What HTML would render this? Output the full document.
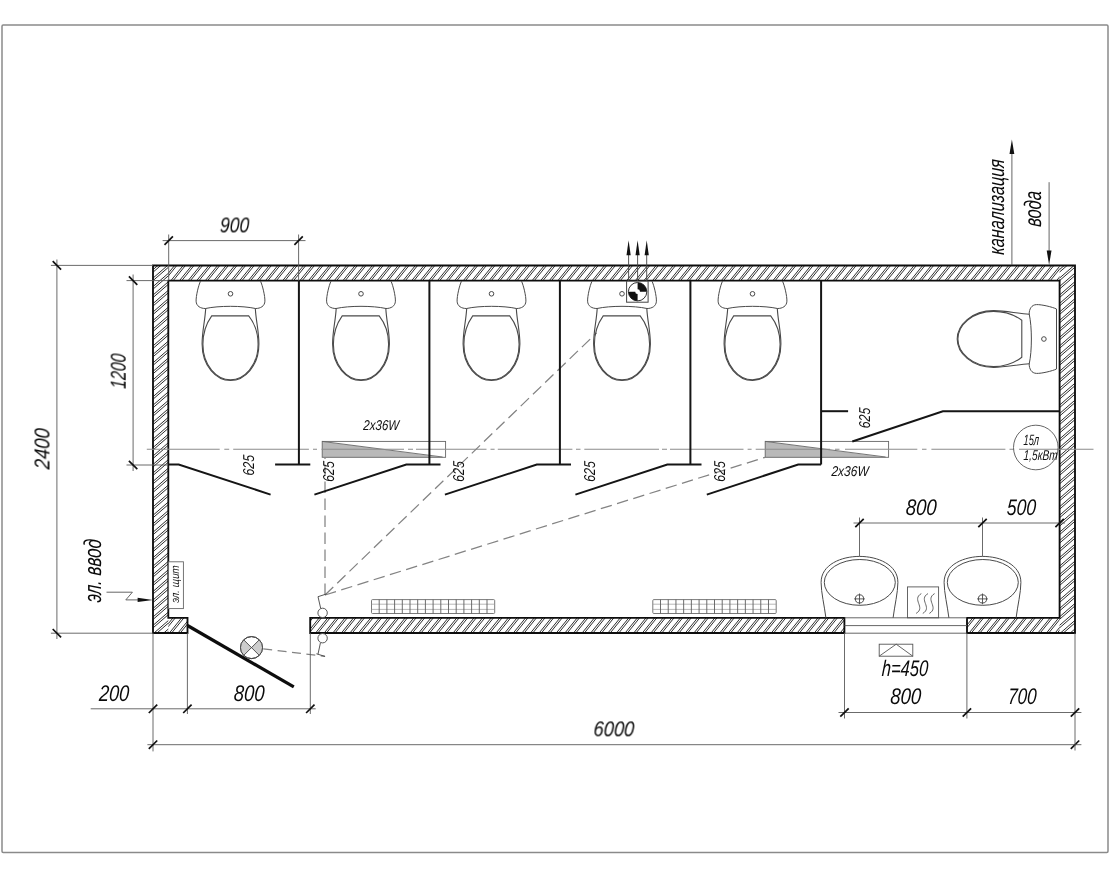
<!DOCTYPE html>
<html lang="ru">
<head>
<meta charset="utf-8">
<title>План модульного санитарного блока 6000x2400</title>
<style>
html,body{margin:0;padding:0;background:#fff;}
body{width:1110px;height:879px;overflow:hidden;}
svg{display:block;}
.t{font-family:"Liberation Sans",sans-serif;font-style:italic;fill:#0a0a0a;}
.ts{font-family:"Liberation Sans",sans-serif;font-style:italic;fill:#111;}
</style>
</head>
<body>
<svg width="1110" height="879" viewBox="0 0 1110 879">
<defs>
<clipPath id="clipH"><path d="M168.3,265.5 H1059.6 V280.6 H168.3 Z M310.2,617.8 H844.4 V633 H310.2 Z M168.3,617.8 H187.5 V633 H168.3 Z M967,617.8 H1059.6 V633 H967 Z"/></clipPath>
<clipPath id="clipV"><path d="M153,265.5 H168.3 V633 H153 Z M1059.6,265.5 H1075 V633 H1059.6 Z"/></clipPath>
<g id="wc" fill="none" stroke="#4a4a4a" stroke-width="1">
<path d="M-30,0 C-32,4 -34.6,15 -34.4,20 C-34.2,25 -30,27.3 -25,27.3 C-12,24.4 12,24.4 25,27.3 C30,27.3 34.2,25 34.4,20 C34.6,15 32,4 30,0"/>
<circle cx="0" cy="12.6" r="2.3"/>
<path d="M-24.8,27.2 C-25.5,40 -28.4,50 -28.4,62.7 C-28.4,85 -14,99.3 0,99.3 C14,99.3 28.4,85 28.4,62.7 C28.4,50 25.5,40 24.8,27.2" stroke-width="1.1"/>
<path d="M-18.8,34.7 L18.2,34.7 C24,42 27.6,52 27.6,63 C27.6,84.4 13.7,98.6 0,98.6 C-13.7,98.6 -27.6,84.4 -27.6,63 C-27.6,52 -24,42 -18.8,34.7 Z" stroke-width="1.1"/>
</g>
<g id="sink" fill="none" stroke="#4a4a4a" stroke-width="1">
<path d="M-33.6,61.4 C-35,50 -38.4,36 -38.4,26 C-38.4,8 -18,0 0,0 C18,0 38.4,8 38.4,26 C38.4,36 35,50 33.6,61.4"/>
<ellipse cx="0.3" cy="26" rx="35.5" ry="22.9"/>
<circle cx="0" cy="42.5" r="4.1"/>
<path d="M-5.4,42.5 H5.4 M0,37.1 V47.9" stroke-width="0.9"/>
</g>
</defs>
<rect x="0" y="0" width="1110" height="879" fill="#fff"/>
<rect x="2" y="25" width="1106" height="827.5" fill="none" stroke="#8a8a8a" stroke-width="1.5" rx="1.2"/>

<path clip-path="url(#clipH)" d="M155.7,281 L168.6,265 M162.0,281 L175.0,265 M164.3,281 L177.2,265 M170.6,281 L183.6,265 M172.9,281 L185.8,265 M179.2,281 L192.2,265 M181.5,281 L194.4,265 M187.8,281 L200.8,265 M190.1,281 L203.0,265 M196.4,281 L209.4,265 M198.7,281 L211.6,265 M205.0,281 L218.0,265 M207.3,281 L220.2,265 M213.6,281 L226.6,265 M215.9,281 L228.8,265 M222.2,281 L235.2,265 M224.5,281 L237.4,265 M230.8,281 L243.8,265 M233.1,281 L246.0,265 M239.4,281 L252.4,265 M241.7,281 L254.6,265 M248.0,281 L261.0,265 M250.3,281 L263.2,265 M256.6,281 L269.6,265 M258.9,281 L271.8,265 M265.2,281 L278.2,265 M267.5,281 L280.4,265 M273.8,281 L286.8,265 M276.1,281 L289.0,265 M282.4,281 L295.4,265 M284.7,281 L297.6,265 M291.0,281 L304.0,265 M293.3,281 L306.2,265 M299.6,281 L312.6,265 M301.9,281 L314.8,265 M308.2,281 L321.2,265 M310.5,281 L323.4,265 M316.8,281 L329.8,265 M319.1,281 L332.0,265 M325.4,281 L338.4,265 M327.7,281 L340.6,265 M334.0,281 L347.0,265 M336.3,281 L349.2,265 M342.6,281 L355.6,265 M344.9,281 L357.8,265 M351.2,281 L364.2,265 M353.5,281 L366.4,265 M359.8,281 L372.8,265 M362.1,281 L375.0,265 M368.4,281 L381.4,265 M370.7,281 L383.6,265 M377.0,281 L390.0,265 M379.3,281 L392.2,265 M385.6,281 L398.6,265 M387.9,281 L400.8,265 M394.2,281 L407.2,265 M396.5,281 L409.4,265 M402.8,281 L415.8,265 M405.1,281 L418.0,265 M411.4,281 L424.4,265 M413.7,281 L426.6,265 M420.0,281 L433.0,265 M422.3,281 L435.2,265 M428.6,281 L441.6,265 M430.9,281 L443.8,265 M437.2,281 L450.2,265 M439.4,281 L452.4,265 M445.8,281 L458.8,265 M448.0,281 L461.0,265 M454.4,281 L467.4,265 M456.6,281 L469.6,265 M463.0,281 L476.0,265 M465.2,281 L478.2,265 M471.6,281 L484.6,265 M473.8,281 L486.8,265 M480.2,281 L493.1,265 M482.4,281 L495.4,265 M488.8,281 L501.7,265 M491.0,281 L504.0,265 M497.4,281 L510.3,265 M499.6,281 L512.6,265 M506.0,281 L518.9,265 M508.2,281 L521.2,265 M514.6,281 L527.5,265 M516.8,281 L529.8,265 M523.2,281 L536.1,265 M525.4,281 L538.4,265 M531.8,281 L544.7,265 M534.0,281 L547.0,265 M540.4,281 L553.3,265 M542.6,281 L555.6,265 M549.0,281 L561.9,265 M551.2,281 L564.2,265 M557.6,281 L570.5,265 M559.8,281 L572.8,265 M566.2,281 L579.1,265 M568.4,281 L581.4,265 M574.8,281 L587.7,265 M577.0,281 L590.0,265 M583.4,281 L596.3,265 M585.6,281 L598.6,265 M592.0,281 L604.9,265 M594.2,281 L607.2,265 M600.6,281 L613.5,265 M602.8,281 L615.8,265 M609.2,281 L622.1,265 M611.4,281 L624.4,265 M617.8,281 L630.7,265 M620.0,281 L633.0,265 M626.4,281 L639.3,265 M628.6,281 L641.6,265 M635.0,281 L647.9,265 M637.2,281 L650.2,265 M643.6,281 L656.5,265 M645.8,281 L658.8,265 M652.2,281 L665.1,265 M654.4,281 L667.4,265 M660.8,281 L673.7,265 M663.0,281 L676.0,265 M669.4,281 L682.3,265 M671.6,281 L684.6,265 M678.0,281 L690.9,265 M680.2,281 L693.2,265 M686.6,281 L699.5,265 M688.8,281 L701.8,265 M695.2,281 L708.1,265 M697.4,281 L710.4,265 M703.8,281 L716.7,265 M706.0,281 L719.0,265 M712.4,281 L725.3,265 M714.6,281 L727.6,265 M721.0,281 L733.9,265 M723.2,281 L736.2,265 M729.6,281 L742.5,265 M731.8,281 L744.8,265 M738.2,281 L751.1,265 M740.4,281 L753.4,265 M746.8,281 L759.7,265 M749.0,281 L762.0,265 M755.4,281 L768.3,265 M757.6,281 L770.6,265 M764.0,281 L776.9,265 M766.2,281 L779.2,265 M772.6,281 L785.5,265 M774.8,281 L787.8,265 M781.2,281 L794.1,265 M783.4,281 L796.4,265 M789.8,281 L802.7,265 M792.0,281 L805.0,265 M798.4,281 L811.3,265 M800.6,281 L813.6,265 M807.0,281 L819.9,265 M809.2,281 L822.2,265 M815.6,281 L828.5,265 M817.8,281 L830.8,265 M824.2,281 L837.1,265 M826.4,281 L839.4,265 M832.8,281 L845.7,265 M835.0,281 L848.0,265 M841.4,281 L854.3,265 M843.6,281 L856.6,265 M850.0,281 L862.9,265 M852.2,281 L865.2,265 M858.6,281 L871.5,265 M860.8,281 L873.8,265 M867.2,281 L880.1,265 M869.4,281 L882.4,265 M875.8,281 L888.7,265 M878.0,281 L891.0,265 M884.4,281 L897.3,265 M886.6,281 L899.6,265 M893.0,281 L905.9,265 M895.2,281 L908.2,265 M901.6,281 L914.5,265 M903.8,281 L916.8,265 M910.2,281 L923.1,265 M912.4,281 L925.4,265 M918.8,281 L931.7,265 M921.0,281 L934.0,265 M927.4,281 L940.3,265 M929.6,281 L942.6,265 M936.0,281 L948.9,265 M938.2,281 L951.2,265 M944.6,281 L957.5,265 M946.8,281 L959.8,265 M953.1,281 L966.1,265 M955.4,281 L968.4,265 M961.7,281 L974.7,265 M964.0,281 L977.0,265 M970.3,281 L983.3,265 M972.6,281 L985.6,265 M978.9,281 L991.9,265 M981.2,281 L994.2,265 M987.5,281 L1000.5,265 M989.8,281 L1002.8,265 M996.1,281 L1009.1,265 M998.4,281 L1011.4,265 M1004.7,281 L1017.7,265 M1007.0,281 L1020.0,265 M1013.3,281 L1026.3,265 M1015.6,281 L1028.6,265 M1021.9,281 L1034.9,265 M1024.2,281 L1037.1,265 M1030.5,281 L1043.5,265 M1032.8,281 L1045.7,265 M1039.1,281 L1052.1,265 M1041.4,281 L1054.3,265 M1047.7,281 L1060.7,265 M1050.0,281 L1062.9,265 M1056.3,281 L1069.3,265 M1058.6,281 L1071.5,265" stroke="#242424" stroke-width="0.95" fill="none"/>
<path clip-path="url(#clipH)" d="M153.6,634 L167.4,617 M160.0,634 L173.7,617 M162.2,634 L176.0,617 M168.6,634 L182.3,617 M170.8,634 L184.6,617 M177.2,634 L190.9,617 M179.4,634 L193.2,617 M185.8,634 L199.5,617 M188.0,634 L201.8,617 M194.4,634 L208.1,617 M196.6,634 L210.4,617 M203.0,634 L216.7,617 M205.2,634 L219.0,617 M211.6,634 L225.3,617 M213.8,634 L227.6,617 M220.2,634 L233.9,617 M222.4,634 L236.2,617 M228.8,634 L242.5,617 M231.0,634 L244.8,617 M237.4,634 L251.1,617 M239.6,634 L253.4,617 M246.0,634 L259.7,617 M248.2,634 L262.0,617 M254.6,634 L268.3,617 M256.8,634 L270.6,617 M263.2,634 L276.9,617 M265.4,634 L279.2,617 M271.8,634 L285.5,617 M274.0,634 L287.8,617 M280.4,634 L294.1,617 M282.6,634 L296.4,617 M289.0,634 L302.7,617 M291.2,634 L305.0,617 M297.6,634 L311.3,617 M299.8,634 L313.6,617 M306.2,634 L319.9,617 M308.4,634 L322.2,617 M314.8,634 L328.5,617 M317.0,634 L330.8,617 M323.4,634 L337.1,617 M325.6,634 L339.4,617 M332.0,634 L345.7,617 M334.2,634 L348.0,617 M340.6,634 L354.3,617 M342.8,634 L356.6,617 M349.1,634 L362.9,617 M351.4,634 L365.2,617 M357.7,634 L371.5,617 M360.0,634 L373.8,617 M366.3,634 L380.1,617 M368.6,634 L382.4,617 M374.9,634 L388.7,617 M377.2,634 L391.0,617 M383.5,634 L397.3,617 M385.8,634 L399.6,617 M392.1,634 L405.9,617 M394.4,634 L408.2,617 M400.7,634 L414.5,617 M403.0,634 L416.8,617 M409.3,634 L423.1,617 M411.6,634 L425.4,617 M417.9,634 L431.7,617 M420.2,634 L434.0,617 M426.5,634 L440.3,617 M428.8,634 L442.6,617 M435.1,634 L448.9,617 M437.4,634 L451.2,617 M443.7,634 L457.5,617 M446.0,634 L459.8,617 M452.3,634 L466.1,617 M454.6,634 L468.4,617 M460.9,634 L474.7,617 M463.2,634 L477.0,617 M469.5,634 L483.3,617 M471.8,634 L485.6,617 M478.1,634 L491.9,617 M480.4,634 L494.2,617 M486.7,634 L500.5,617 M489.0,634 L502.8,617 M495.3,634 L509.1,617 M497.6,634 L511.4,617 M503.9,634 L517.7,617 M506.2,634 L520.0,617 M512.5,634 L526.3,617 M514.8,634 L528.6,617 M521.1,634 L534.9,617 M523.4,634 L537.1,617 M529.7,634 L543.5,617 M532.0,634 L545.7,617 M538.3,634 L552.1,617 M540.6,634 L554.3,617 M546.9,634 L560.7,617 M549.2,634 L562.9,617 M555.5,634 L569.3,617 M557.8,634 L571.5,617 M564.1,634 L577.9,617 M566.4,634 L580.1,617 M572.7,634 L586.5,617 M575.0,634 L588.7,617 M581.3,634 L595.1,617 M583.6,634 L597.3,617 M589.9,634 L603.7,617 M592.2,634 L605.9,617 M598.5,634 L612.3,617 M600.8,634 L614.5,617 M607.1,634 L620.9,617 M609.4,634 L623.1,617 M615.7,634 L629.5,617 M618.0,634 L631.7,617 M624.3,634 L638.1,617 M626.6,634 L640.3,617 M632.9,634 L646.7,617 M635.2,634 L648.9,617 M641.5,634 L655.3,617 M643.8,634 L657.5,617 M650.1,634 L663.9,617 M652.4,634 L666.1,617 M658.7,634 L672.5,617 M661.0,634 L674.7,617 M667.3,634 L681.1,617 M669.6,634 L683.3,617 M675.9,634 L689.7,617 M678.2,634 L691.9,617 M684.5,634 L698.3,617 M686.8,634 L700.5,617 M693.1,634 L706.9,617 M695.4,634 L709.1,617 M701.7,634 L715.5,617 M704.0,634 L717.7,617 M710.3,634 L724.1,617 M712.6,634 L726.3,617 M718.9,634 L732.7,617 M721.2,634 L734.9,617 M727.5,634 L741.3,617 M729.8,634 L743.5,617 M736.1,634 L749.9,617 M738.4,634 L752.1,617 M744.7,634 L758.5,617 M747.0,634 L760.7,617 M753.3,634 L767.1,617 M755.6,634 L769.3,617 M761.9,634 L775.7,617 M764.2,634 L777.9,617 M770.5,634 L784.3,617 M772.8,634 L786.5,617 M779.1,634 L792.9,617 M781.4,634 L795.1,617 M787.7,634 L801.5,617 M790.0,634 L803.7,617 M796.3,634 L810.1,617 M798.6,634 L812.3,617 M804.9,634 L818.7,617 M807.2,634 L820.9,617 M813.5,634 L827.3,617 M815.8,634 L829.5,617 M822.1,634 L835.9,617 M824.4,634 L838.1,617 M830.7,634 L844.5,617 M833.0,634 L846.7,617 M839.3,634 L853.1,617 M841.6,634 L855.3,617 M847.9,634 L861.7,617 M850.2,634 L863.9,617 M856.5,634 L870.3,617 M858.8,634 L872.5,617 M865.1,634 L878.9,617 M867.4,634 L881.1,617 M873.7,634 L887.5,617 M876.0,634 L889.7,617 M882.3,634 L896.1,617 M884.6,634 L898.3,617 M890.9,634 L904.7,617 M893.1,634 L906.9,617 M899.5,634 L913.3,617 M901.7,634 L915.5,617 M908.1,634 L921.9,617 M910.3,634 L924.1,617 M916.7,634 L930.5,617 M918.9,634 L932.7,617 M925.3,634 L939.1,617 M927.5,634 L941.3,617 M933.9,634 L947.7,617 M936.1,634 L949.9,617 M942.5,634 L956.3,617 M944.7,634 L958.5,617 M951.1,634 L964.9,617 M953.3,634 L967.1,617 M959.7,634 L973.5,617 M961.9,634 L975.7,617 M968.3,634 L982.1,617 M970.5,634 L984.3,617 M976.9,634 L990.7,617 M979.1,634 L992.9,617 M985.5,634 L999.3,617 M987.7,634 L1001.5,617 M994.1,634 L1007.9,617 M996.3,634 L1010.1,617 M1002.7,634 L1016.5,617 M1004.9,634 L1018.7,617 M1011.3,634 L1025.1,617 M1013.5,634 L1027.3,617 M1019.9,634 L1033.7,617 M1022.1,634 L1035.9,617 M1028.5,634 L1042.3,617 M1030.7,634 L1044.5,617 M1037.1,634 L1050.9,617 M1039.3,634 L1053.1,617 M1045.7,634 L1059.4,617 M1047.9,634 L1061.7,617 M1054.3,634 L1068.0,617 M1056.5,634 L1070.3,617" stroke="#242424" stroke-width="0.95" fill="none"/>
<path clip-path="url(#clipV)" d="M-273.1,634 L151.5,265 M-266.2,634 L158.4,265 M-263.4,634 L161.3,265 M-256.5,634 L168.1,265 M-253.6,634 L171.0,265 M-246.7,634 L177.9,265 M-243.9,634 L180.8,265 M-237.0,634 L187.6,265 M-234.1,634 L190.5,265 M-227.2,634 L197.4,265 M-224.4,634 L200.3,265 M-217.5,634 L207.1,265 M-214.6,634 L210.0,265 M-207.8,634 L216.9,265 M-204.9,634 L219.7,265 M-198.0,634 L226.6,265 M-195.1,634 L229.5,265 M-188.3,634 L236.4,265 M-185.4,634 L239.2,265 M-178.5,634 L246.1,265 M-175.6,634 L249.0,265 M-168.8,634 L255.9,265 M-165.9,634 L258.7,265 M-159.0,634 L265.6,265 M-156.1,634 L268.5,265 M-149.3,634 L275.4,265 M-146.4,634 L278.2,265 M-139.5,634 L285.1,265 M-136.7,634 L288.0,265 M-129.8,634 L294.8,265 M-126.9,634 L297.7,265 M-120.0,634 L304.6,265 M-117.2,634 L307.5,265 M-110.3,634 L314.3,265 M-107.4,634 L317.2,265 M-100.5,634 L324.1,265 M-97.7,634 L327.0,265 M-90.8,634 L333.8,265 M-87.9,634 L336.7,265 M-81.0,634 L343.6,265 M-78.2,634 L346.5,265 M-71.3,634 L353.3,265 M-68.4,634 L356.2,265 M-61.6,634 L363.1,265 M-58.7,634 L365.9,265 M-51.8,634 L372.8,265 M-48.9,634 L375.7,265 M-42.1,634 L382.6,265 M-39.2,634 L385.4,265 M-32.3,634 L392.3,265 M-29.4,634 L395.2,265 M-22.6,634 L402.1,265 M-19.7,634 L404.9,265 M-12.8,634 L411.8,265 M-9.9,634 L414.7,265 M-3.1,634 L421.6,265 M-0.2,634 L424.4,265 M6.7,634 L431.3,265 M9.6,634 L434.2,265 M16.4,634 L441.0,265 M19.3,634 L443.9,265 M26.2,634 L450.8,265 M29.0,634 L453.7,265 M35.9,634 L460.5,265 M38.8,634 L463.4,265 M45.7,634 L470.3,265 M48.5,634 L473.2,265 M55.4,634 L480.0,265 M58.3,634 L482.9,265 M65.2,634 L489.8,265 M68.0,634 L492.7,265 M74.9,634 L499.5,265 M77.8,634 L502.4,265 M84.6,634 L509.3,265 M87.5,634 L512.2,265 M94.4,634 L519.0,265 M97.3,634 L521.9,265 M104.1,634 L528.8,265 M107.0,634 L531.6,265 M113.9,634 L538.5,265 M116.8,634 L541.4,265 M123.6,634 L548.3,265 M126.5,634 L551.1,265 M133.4,634 L558.0,265 M136.3,634 L560.9,265 M143.1,634 L567.8,265 M146.0,634 L570.6,265 M152.9,634 L577.5,265 M155.8,634 L580.4,265 M162.6,634 L587.2,265 M165.5,634 L590.1,265" stroke="#242424" stroke-width="0.95" fill="none"/>
<path clip-path="url(#clipV)" d="M640.2,634 L1064.8,265 M643.1,634 L1067.7,265 M650.0,634 L1074.6,265 M652.8,634 L1077.5,265 M659.7,634 L1084.3,265 M662.6,634 L1087.2,265 M669.5,634 L1094.1,265 M672.3,634 L1097.0,265 M679.2,634 L1103.8,265 M682.1,634 L1106.7,265 M689.0,634 L1113.6,265 M691.8,634 L1116.5,265 M698.7,634 L1123.3,265 M701.6,634 L1126.2,265 M708.4,634 L1133.1,265 M711.3,634 L1135.9,265 M718.2,634 L1142.8,265 M721.1,634 L1145.7,265 M727.9,634 L1152.6,265 M730.8,634 L1155.4,265 M737.7,634 L1162.3,265 M740.6,634 L1165.2,265 M747.4,634 L1172.1,265 M750.3,634 L1174.9,265 M757.2,634 L1181.8,265 M760.1,634 L1184.7,265 M766.9,634 L1191.6,265 M769.8,634 L1194.4,265 M776.7,634 L1201.3,265 M779.6,634 L1204.2,265 M786.4,634 L1211.0,265 M789.3,634 L1213.9,265 M796.2,634 L1220.8,265 M799.0,634 L1223.7,265 M805.9,634 L1230.5,265 M808.8,634 L1233.4,265 M815.7,634 L1240.3,265 M818.5,634 L1243.2,265 M825.4,634 L1250.0,265 M828.3,634 L1252.9,265 M835.2,634 L1259.8,265 M838.0,634 L1262.7,265 M844.9,634 L1269.5,265 M847.8,634 L1272.4,265 M854.6,634 L1279.3,265 M857.5,634 L1282.2,265 M864.4,634 L1289.0,265 M867.3,634 L1291.9,265 M874.1,634 L1298.8,265 M877.0,634 L1301.6,265 M883.9,634 L1308.5,265 M886.8,634 L1311.4,265 M893.6,634 L1318.3,265 M896.5,634 L1321.1,265 M903.4,634 L1328.0,265 M906.3,634 L1330.9,265 M913.1,634 L1337.8,265 M916.0,634 L1340.6,265 M922.9,634 L1347.5,265 M925.8,634 L1350.4,265 M932.6,634 L1357.2,265 M935.5,634 L1360.1,265 M942.4,634 L1367.0,265 M945.2,634 L1369.9,265 M952.1,634 L1376.7,265 M955.0,634 L1379.6,265 M961.9,634 L1386.5,265 M964.7,634 L1389.4,265 M971.6,634 L1396.2,265 M974.5,634 L1399.1,265 M981.4,634 L1406.0,265 M984.2,634 L1408.9,265 M991.1,634 L1415.7,265 M994.0,634 L1418.6,265 M1000.9,634 L1425.5,265 M1003.7,634 L1428.4,265 M1010.6,634 L1435.2,265 M1013.5,634 L1438.1,265 M1020.3,634 L1445.0,265 M1023.2,634 L1447.8,265 M1030.1,634 L1454.7,265 M1033.0,634 L1457.6,265 M1039.8,634 L1464.5,265 M1042.7,634 L1467.3,265 M1049.6,634 L1474.2,265 M1052.5,634 L1477.1,265 M1059.3,634 L1484.0,265 M1062.2,634 L1486.8,265 M1069.1,634 L1493.7,265 M1072.0,634 L1496.6,265" stroke="#242424" stroke-width="0.95" fill="none"/>
<g fill="none" stroke="#0d0d0d" stroke-width="1.85" stroke-linejoin="miter">
<path d="M153,265.5 H1075 V633 H967 V617.8 H1059.6 V280.6 H168.3 V617.8 H187.5 V633 H153 Z"/>
<path d="M310.2,617.8 H844.4 V633 H310.2 Z"/>
</g>
<line x1="844.4" y1="617.8" x2="967" y2="617.8" stroke="#555" stroke-width="0.9" />
<line x1="844.4" y1="625.6" x2="967" y2="625.6" stroke="#555" stroke-width="0.9" />
<line x1="844.4" y1="633.2" x2="967" y2="633.2" stroke="#555" stroke-width="0.9" />
<path d="M322.2,441.4 L322.2,457.3 L441.6,457.3 Z" fill="#b9b9b9" stroke="none"/>
<rect x="322.2" y="441.4" width="123.40000000000003" height="15.9" fill="none" stroke="#666" stroke-width="0.9"/>
<path d="M322.2,441.4 L442.6,457" fill="none" stroke="#666" stroke-width="0.9"/>
<path d="M765.2,441.4 L765.2,457.3 L884.6,457.3 Z" fill="#b9b9b9" stroke="none"/>
<rect x="765.2" y="441.4" width="123.39999999999998" height="15.9" fill="none" stroke="#666" stroke-width="0.9"/>
<path d="M765.2,441.4 L885.6,457" fill="none" stroke="#666" stroke-width="0.9"/>
<path d="M146.8,449.3 H219.7 M224.3,449.3 H229.2 M233.2,449.3 H308.9 M313,449.3 H317 M321.5,449.3 H404 M408,449.3 H413 M416,449.3 H486.5 M490.5,449.3 H494.6 M497.8,449.3 H572.4 M576,449.3 H580.5 M584.3,449.3 H659 M662,449.3 H667 M670,449.3 H743.5 M747.6,449.3 H751.6 M755.7,449.3 H830 M835,449.3 H839.5 M845,449.3 H917.3 M922,449.3 H926.5 M931.4,449.3 H1005.4 M1009.5,449.3 H1014 M1019,449.3 H1093.5" stroke="#8c8c8c" stroke-width="1.1" fill="none"/>
<g stroke="#838383" stroke-width="1.25" fill="none" stroke-dasharray="11.5 5.5">
<path d="M325,595 V458"/>
<path d="M325,595 L596.6,332.9"/>
<path d="M325,595 L765.2,457.3"/>
<path d="M263.2,648.8 L325,656.4" stroke-dasharray="9 5.5"/>
</g>
<use href="#wc" x="230.5" y="281.2"/>
<use href="#wc" x="361" y="281.2"/>
<use href="#wc" x="491.5" y="281.2"/>
<use href="#wc" x="622" y="281.2"/>
<use href="#wc" x="752.5" y="281.2"/>
<use href="#wc" transform="translate(1056.5 339) rotate(90)"/>
<line x1="1056.5" y1="309" x2="1056.5" y2="369" stroke="#4a4a4a" stroke-width="1" />
<g>
<rect x="626.6" y="281.2" width="21.5" height="21" fill="#fff" stroke="#444" stroke-width="1"/>
<circle cx="637.6" cy="291.7" r="9.2" fill="#fff" stroke="#333" stroke-width="1"/>
<path d="M637.6,291.7 L637.6,282.5 A9.2,9.2 0 0 1 646.8,291.7 Z M637.6,291.7 L637.6,300.9 A9.2,9.2 0 0 1 628.4,291.7 Z" fill="#111"/>
<circle cx="637.6" cy="291.7" r="2.4" fill="#fff"/>
<line x1="628.6" y1="281" x2="628.6" y2="254" stroke="#444" stroke-width="0.9" />
<path d="M628.6,240.2 L630.7,255.2 L626.5,255.2 Z" fill="#111"/>
<line x1="637.6" y1="281" x2="637.6" y2="254" stroke="#444" stroke-width="0.9" />
<path d="M637.6,240.2 L639.7,255.2 L635.5,255.2 Z" fill="#111"/>
<line x1="646.7" y1="281" x2="646.7" y2="254" stroke="#444" stroke-width="0.9" />
<path d="M646.7,240.2 L648.8000000000001,255.2 L644.6,255.2 Z" fill="#111"/>
</g>
<g stroke="#151515" stroke-width="2" fill="none" stroke-linecap="butt">
<path d="M298.9,280.6 V464.5"/>
<path d="M429.4,280.6 V464.5"/>
<path d="M559.9,280.6 V464.5"/>
<path d="M690.4,280.6 V464.5"/>
<path d="M821.1,280.6 V464.5"/>
<path d="M168.3,464.5 H178.7 L270.6,494.6"/>
<path d="M275.1,464.5 H310.3"/>
<path d="M314.4,494.6 L406.3,464.5 H440.5"/>
<path d="M444.9,494.6 L536.8,464.5 H571.0"/>
<path d="M575.4,494.6 L667.3,464.5 H701.5"/>
<path d="M706.8,494.6 L798.2,464.5 H821.1"/>
<path d="M821.1,411.2 H848.1"/>
<path d="M852.3,441.5 L942.9,411.2 H1059.6"/>
</g>
<path d="M187.5,625.5 L293.8,686.9" stroke="#0d0d0d" stroke-width="3.2" fill="none"/>
<g>
<circle cx="251.5" cy="647.6" r="11" fill="#fff" stroke="#444" stroke-width="1"/>
<path d="M251.5,647.6 L243.72,639.82 A11,11 0 0 0 243.72,655.38 Z M251.5,647.6 L259.28,639.82 A11,11 0 0 1 259.28,655.38 Z" fill="#cdcdcd"/>
<path d="M243.72,639.82 L259.28,655.38 M259.28,639.82 L243.72,655.38" stroke="#444" stroke-width="0.9"/>
<circle cx="251.5" cy="647.6" r="11" fill="none" stroke="#444" stroke-width="1"/>
</g>
<g fill="#fff" stroke="#444" stroke-width="0.9">
<circle cx="322.6" cy="612.9" r="4.7"/>
<circle cx="322.6" cy="638.2" r="4.7"/>
<path d="M320.7,608.4 L318,596.7 L326.4,594" fill="none"/>
<path d="M320.4,643 L318,654.1 M316.4,653.8 L325.1,656.4" fill="none"/>
</g>
<rect x="168.6" y="561.8" width="14.8" height="46.8" fill="#fff" stroke="#666" stroke-width="0.9"/>
<g stroke="#5c5c5c" stroke-width="0.9" fill="none">
<rect x="371.5" y="599.6" width="123.2" height="13.9" rx="1" stroke="#6a6a6a"/>
<path d="M371.5,604.2 H494.7 M371.5,609.4 H494.7" stroke="#999" stroke-width="0.7"/>
<path d="M379.20,599.6 V613.5 M386.90,599.6 V613.5 M394.60,599.6 V613.5 M402.30,599.6 V613.5 M410.00,599.6 V613.5 M417.70,599.6 V613.5 M425.40,599.6 V613.5 M433.10,599.6 V613.5 M440.80,599.6 V613.5 M448.50,599.6 V613.5 M456.20,599.6 V613.5 M463.90,599.6 V613.5 M471.60,599.6 V613.5 M479.30,599.6 V613.5 M487.00,599.6 V613.5"/>
</g>
<g stroke="#5c5c5c" stroke-width="0.9" fill="none">
<rect x="652.8" y="599.6" width="123.4" height="13.9" rx="1" stroke="#6a6a6a"/>
<path d="M652.8,604.2 H776.2 M652.8,609.4 H776.2" stroke="#999" stroke-width="0.7"/>
<path d="M660.51,599.6 V613.5 M668.22,599.6 V613.5 M675.94,599.6 V613.5 M683.65,599.6 V613.5 M691.36,599.6 V613.5 M699.08,599.6 V613.5 M706.79,599.6 V613.5 M714.50,599.6 V613.5 M722.21,599.6 V613.5 M729.92,599.6 V613.5 M737.64,599.6 V613.5 M745.35,599.6 V613.5 M753.06,599.6 V613.5 M760.78,599.6 V613.5 M768.49,599.6 V613.5"/>
</g>
<use href="#sink" x="859.5" y="556.4"/>
<use href="#sink" x="982.5" y="556.4"/>
<rect x="907.5" y="586.9" width="31.1" height="30.9" fill="none" stroke="#555" stroke-width="0.9"/>
<path d="M921.3000000000001,593.6 C911.2,599.5 926.2,607.5 916.1,613.4" fill="none" stroke="#555" stroke-width="0.9"/>
<path d="M928.0,593.6 C917.9,599.5 932.9,607.5 922.8,613.4" fill="none" stroke="#555" stroke-width="0.9"/>
<path d="M934.6,593.6 C924.5,599.5 939.5,607.5 929.4,613.4" fill="none" stroke="#555" stroke-width="0.9"/>
<rect x="879.2" y="644.2" width="33.6" height="12" fill="none" stroke="#555" stroke-width="0.9"/>
<path d="M879.2,656.2 L896.2,644.2 L912.8,656.2" fill="none" stroke="#555" stroke-width="0.9"/>
<circle cx="1035.8" cy="447.5" r="22.3" fill="none" stroke="#555" stroke-width="0.9"/>
<line x1="1011.9" y1="265" x2="1011.9" y2="152" stroke="#555" stroke-width="0.9" />
<path d="M1011.9,139.6 L1014.3,154 L1009.5,154 Z" fill="#111"/>
<line x1="1049.1" y1="182.2" x2="1049.1" y2="252" stroke="#555" stroke-width="0.9" />
<path d="M1049.1,265 L1051.5,250.5 L1046.7,250.5 Z" fill="#111"/>
<path d="M106.5,592.2 H132.4 L125.8,599.9 H140" fill="none" stroke="#555" stroke-width="0.9"/>
<path d="M153,599.9 L137.6,602.1 L137.6,597.7 Z" fill="#111"/>
<line x1="162.6" y1="240.6" x2="305.5" y2="240.6" stroke="#5a5a5a" stroke-width="0.9" />
<line x1="168.7" y1="234.5" x2="168.7" y2="280.6" stroke="#5a5a5a" stroke-width="0.9" />
<line x1="298.6" y1="234.5" x2="298.6" y2="280.6" stroke="#5a5a5a" stroke-width="0.9" />
<line x1="164.5" y1="244.79999999999998" x2="172.89999999999998" y2="236.4" stroke="#111" stroke-width="1.7" />
<line x1="294.40000000000003" y1="244.79999999999998" x2="302.8" y2="236.4" stroke="#111" stroke-width="1.7" />
<line x1="56.9" y1="259.5" x2="56.9" y2="639" stroke="#5a5a5a" stroke-width="0.9" />
<line x1="50.9" y1="265.4" x2="153" y2="265.4" stroke="#5a5a5a" stroke-width="0.9" />
<line x1="50.9" y1="633.2" x2="153" y2="633.2" stroke="#5a5a5a" stroke-width="0.9" />
<line x1="52.699999999999996" y1="261.2" x2="61.1" y2="269.59999999999997" stroke="#111" stroke-width="1.7" />
<line x1="52.699999999999996" y1="629.0" x2="61.1" y2="637.4000000000001" stroke="#111" stroke-width="1.7" />
<line x1="133.1" y1="274.5" x2="133.1" y2="471" stroke="#5a5a5a" stroke-width="0.9" />
<line x1="126.5" y1="280.6" x2="168" y2="280.6" stroke="#5a5a5a" stroke-width="0.9" />
<line x1="126.5" y1="465" x2="168" y2="465" stroke="#5a5a5a" stroke-width="0.9" />
<line x1="128.9" y1="276.40000000000003" x2="137.29999999999998" y2="284.8" stroke="#111" stroke-width="1.7" />
<line x1="128.9" y1="460.8" x2="137.29999999999998" y2="469.2" stroke="#111" stroke-width="1.7" />
<line x1="90.7" y1="708.8" x2="315.7" y2="708.8" stroke="#5a5a5a" stroke-width="0.9" />
<line x1="153" y1="633" x2="153" y2="751.4" stroke="#5a5a5a" stroke-width="0.9" />
<line x1="187.4" y1="633" x2="187.4" y2="714" stroke="#5a5a5a" stroke-width="0.9" />
<line x1="310.3" y1="633" x2="310.3" y2="714" stroke="#5a5a5a" stroke-width="0.9" />
<line x1="148.8" y1="713.0" x2="157.2" y2="704.5999999999999" stroke="#111" stroke-width="1.7" />
<line x1="183.20000000000002" y1="713.0" x2="191.6" y2="704.5999999999999" stroke="#111" stroke-width="1.7" />
<line x1="306.1" y1="713.0" x2="314.5" y2="704.5999999999999" stroke="#111" stroke-width="1.7" />
<line x1="147.4" y1="744.7" x2="1081.4" y2="744.7" stroke="#5a5a5a" stroke-width="0.9" />
<line x1="148.8" y1="748.9000000000001" x2="157.2" y2="740.5" stroke="#111" stroke-width="1.7" />
<line x1="1070.8" y1="748.9000000000001" x2="1079.2" y2="740.5" stroke="#111" stroke-width="1.7" />
<line x1="838.5" y1="712.5" x2="1081.4" y2="712.5" stroke="#5a5a5a" stroke-width="0.9" />
<line x1="844.5" y1="633" x2="844.5" y2="718.5" stroke="#5a5a5a" stroke-width="0.9" />
<line x1="966.9" y1="633" x2="966.9" y2="718.5" stroke="#5a5a5a" stroke-width="0.9" />
<line x1="1075" y1="633" x2="1075" y2="750.5" stroke="#5a5a5a" stroke-width="0.9" />
<line x1="840.3" y1="716.7" x2="848.7" y2="708.3" stroke="#111" stroke-width="1.7" />
<line x1="962.6999999999999" y1="716.7" x2="971.1" y2="708.3" stroke="#111" stroke-width="1.7" />
<line x1="1070.8" y1="716.7" x2="1079.2" y2="708.3" stroke="#111" stroke-width="1.7" />
<line x1="853.5" y1="523" x2="1065" y2="523" stroke="#5a5a5a" stroke-width="0.9" />
<line x1="859.5" y1="517.5" x2="859.5" y2="556.4" stroke="#5a5a5a" stroke-width="0.9" />
<line x1="982.5" y1="517.5" x2="982.5" y2="556.4" stroke="#5a5a5a" stroke-width="0.9" />
<line x1="855.3" y1="527.2" x2="863.7" y2="518.8" stroke="#111" stroke-width="1.7" />
<line x1="978.3" y1="527.2" x2="986.7" y2="518.8" stroke="#111" stroke-width="1.7" />
<line x1="1055.3999999999999" y1="527.2" x2="1063.8" y2="518.8" stroke="#111" stroke-width="1.7" />
<g opacity="0.998">
<text class="ts" font-size="11.5" text-anchor="start" textLength="37.5" lengthAdjust="spacingAndGlyphs" transform="translate(178.6 603) rotate(-90) skewX(-3)">эл. щит</text>
<text class="t" font-size="22.6" text-anchor="start" textLength="29.1" lengthAdjust="spacingAndGlyphs" transform="translate(219.7 232.5) skewX(-3)">900</text>
<text class="t" font-size="22.6" text-anchor="start" textLength="30.2" lengthAdjust="spacingAndGlyphs" transform="translate(98.7 700.8) skewX(-3)">200</text>
<text class="t" font-size="22.6" text-anchor="start" textLength="30.6" lengthAdjust="spacingAndGlyphs" transform="translate(233.5 700.8) skewX(-3)">800</text>
<text class="t" font-size="22.6" text-anchor="start" textLength="40.8" lengthAdjust="spacingAndGlyphs" transform="translate(593.2 736.4) skewX(-3)">6000</text>
<text class="t" font-size="22.6" text-anchor="start" textLength="30.9" lengthAdjust="spacingAndGlyphs" transform="translate(890 704.2) skewX(-3)">800</text>
<text class="t" font-size="22.6" text-anchor="start" textLength="28.5" lengthAdjust="spacingAndGlyphs" transform="translate(1007.7 704.4) skewX(-3)">700</text>
<text class="t" font-size="22.6" text-anchor="start" textLength="46.2" lengthAdjust="spacingAndGlyphs" transform="translate(881.6 675.9) skewX(-3)">h=450</text>
<text class="t" font-size="22.6" text-anchor="start" textLength="30.9" lengthAdjust="spacingAndGlyphs" transform="translate(905.5 514.6) skewX(-3)">800</text>
<text class="t" font-size="22.6" text-anchor="start" textLength="29.2" lengthAdjust="spacingAndGlyphs" transform="translate(1006.6 514.6) skewX(-3)">500</text>
<text class="t" font-size="22.6" text-anchor="start" textLength="41" lengthAdjust="spacingAndGlyphs" transform="translate(49.5 469.6) rotate(-90) skewX(-3)">2400</text>
<text class="t" font-size="22.6" text-anchor="start" textLength="35" lengthAdjust="spacingAndGlyphs" transform="translate(125.7 389) rotate(-90) skewX(-3)">1200</text>
<text class="t" font-size="24.5" text-anchor="start" textLength="63.6" lengthAdjust="spacingAndGlyphs" transform="translate(100.5 602.8) rotate(-90) skewX(-3)">эл. ввод</text>
<text class="t" font-size="22.6" text-anchor="start" textLength="95.5" lengthAdjust="spacingAndGlyphs" transform="translate(1004.2 255) rotate(-90) skewX(-3)">канализация</text>
<text class="t" font-size="24" text-anchor="start" textLength="35.8" lengthAdjust="spacingAndGlyphs" transform="translate(1040.7 227.1) rotate(-90) skewX(-3)">вода</text>
<text class="ts" font-size="14.2" text-anchor="start" textLength="36" lengthAdjust="spacingAndGlyphs" transform="translate(363 429.7) skewX(-3)">2x36W</text>
<text class="ts" font-size="14.2" text-anchor="start" textLength="37.3" lengthAdjust="spacingAndGlyphs" transform="translate(831.2 475.7) skewX(-3)">2x36W</text>
<text class="ts" font-size="15" text-anchor="start" textLength="15.7" lengthAdjust="spacingAndGlyphs" transform="translate(1023.2 444.9) skewX(-3)">15л</text>
<text class="ts" font-size="14.2" text-anchor="start" textLength="34.4" lengthAdjust="spacingAndGlyphs" transform="translate(1023.2 460) skewX(-3)">1,5кВт</text>
<text class="ts" font-size="15.8" text-anchor="start" textLength="20.6" lengthAdjust="spacingAndGlyphs" transform="translate(253.8 475.8) rotate(-90) skewX(-3)">625</text>
<text class="ts" font-size="15.8" text-anchor="start" textLength="20.6" lengthAdjust="spacingAndGlyphs" transform="translate(333.5 482) rotate(-90) skewX(-3)">625</text>
<text class="ts" font-size="15.8" text-anchor="start" textLength="20.6" lengthAdjust="spacingAndGlyphs" transform="translate(464.2 482) rotate(-90) skewX(-3)">625</text>
<text class="ts" font-size="15.8" text-anchor="start" textLength="20.6" lengthAdjust="spacingAndGlyphs" transform="translate(594.7 482) rotate(-90) skewX(-3)">625</text>
<text class="ts" font-size="15.8" text-anchor="start" textLength="20.6" lengthAdjust="spacingAndGlyphs" transform="translate(725.2 482) rotate(-90) skewX(-3)">625</text>
<text class="ts" font-size="15.8" text-anchor="start" textLength="20.6" lengthAdjust="spacingAndGlyphs" transform="translate(870.2 428.5) rotate(-90) skewX(-3)">625</text>
</g>
</svg>
</body>
</html>
